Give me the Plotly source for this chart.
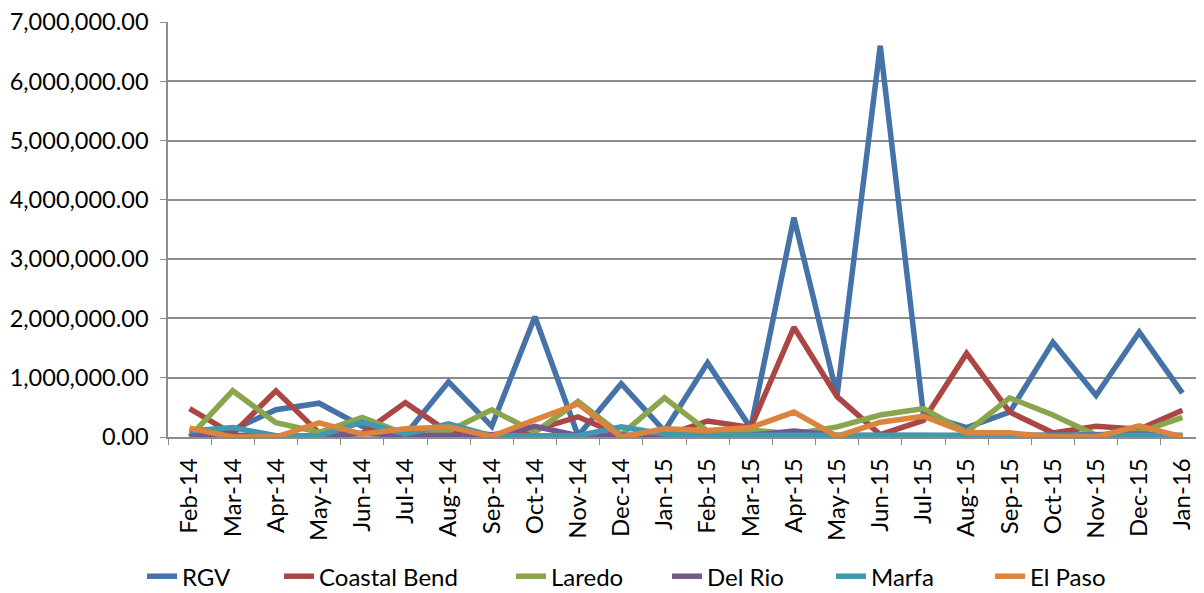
import plotly.graph_objects as go

months = ["Feb-14", "Mar-14", "Apr-14", "May-14", "Jun-14", "Jul-14", "Aug-14", "Sep-14",
          "Oct-14", "Nov-14", "Dec-14", "Jan-15", "Feb-15", "Mar-15", "Apr-15", "May-15",
          "Jun-15", "Jul-15", "Aug-15", "Sep-15", "Oct-15", "Nov-15", "Dec-15", "Jan-16"]

rgv = [50000, 120000, 460000, 570000, 180000, 40000, 930000, 180000,
       2030000, 20000, 900000, 100000, 1250000, 150000, 3700000, 700000,
       6600000, 380000, 160000, 420000, 1600000, 700000, 1770000, 740000]
coastal_bend = [480000, 50000, 780000, 70000, 60000, 580000, 80000, 40000,
                120000, 340000, 20000, 20000, 270000, 160000, 1850000, 680000,
                40000, 280000, 1410000, 420000, 70000, 180000, 130000, 450000]
laredo = [0, 780000, 240000, 80000, 330000, 50000, 100000, 460000,
          80000, 600000, 40000, 660000, 100000, 120000, 50000, 170000,
          370000, 480000, 80000, 660000, 370000, 30000, 80000, 330000]
del_rio = [50000, 20000, 10000, 10000, 60000, 30000, 20000, 20000,
           180000, 20000, 30000, 20000, 20000, 30000, 100000, 30000,
           20000, 20000, 20000, 20000, 30000, 20000, 50000, 20000]
marfa = [100000, 160000, 20000, 20000, 250000, 50000, 220000, 20000,
         20000, 20000, 170000, 50000, 30000, 30000, 20000, 20000,
         20000, 20000, 20000, 20000, 20000, 20000, 30000, 30000]
el_paso = [150000, 0, 0, 240000, 50000, 140000, 170000, 10000,
           290000, 560000, 0, 140000, 110000, 160000, 420000, 10000,
           250000, 350000, 70000, 70000, 0, 0, 190000, 0]

series = [
    ("RGV", rgv, "#4572A7"),
    ("Coastal Bend", coastal_bend, "#AA4643"),
    ("Laredo", laredo, "#89A54E"),
    ("Del Rio", del_rio, "#71588F"),
    ("Marfa", marfa, "#4198AF"),
    ("El Paso", el_paso, "#DB843D"),
]

FIG_W, FIG_H = 1196, 585
# left edge (px) of each legend entry, one legend per series so spacing matches
legend_left_px = [134, 271, 503, 659, 823, 982]

fig = go.Figure()
legend_layouts = {}
for i, (name, vals, color) in enumerate(series):
    key = "legend" if i == 0 else f"legend{i + 1}"
    fig.add_trace(go.Scatter(x=months, y=vals, name=name, mode="lines",
                             legend=key, line=dict(color=color, width=5.5)))
    legend_layouts[key] = dict(
        orientation="h", x=legend_left_px[i] / FIG_W, xanchor="left", xref="container",
        y=0.028, yanchor="middle", yref="container",
        font=dict(size=24), bgcolor="rgba(0,0,0,0)")

font_family = "Lato, Carlito, Calibri, sans-serif"

# The page body has an 8px default margin, so the figure is sized to fit inside it.
fig.update_layout(
    template="none",
    width=FIG_W, height=FIG_H,
    margin=dict(l=160, r=0, t=14, b=156, autoexpand=False),
    paper_bgcolor="white", plot_bgcolor="white",
    font=dict(family=font_family, size=24, color="#000000"),
    showlegend=True,
    xaxis=dict(
        type="category", tickangle=-90, showgrid=False, automargin=False,
        showline=True, linecolor="#8C8C8C", linewidth=1.5,
        ticks="outside", tickson="boundaries", ticklen=6, tickcolor="#8C8C8C",
        ticklabelstandoff=10,
        tickfont=dict(size=24), range=[-0.5, len(months) - 0.5],
    ),
    yaxis=dict(
        range=[0, 7000000], dtick=1000000, tickformat=",.2f", automargin=False,
        showgrid=True, gridcolor="#8C8C8C", gridwidth=1.5,
        showline=True, linecolor="#8C8C8C", linewidth=1.5,
        ticks="outside", ticklen=6, tickcolor="#8C8C8C",
        ticklabelstandoff=7, ticklabeloverflow="allow",
        tickfont=dict(size=23.5), zeroline=False,
    ),
)
fig.update_layout(**legend_layouts)

fig.write_html("out.html")
